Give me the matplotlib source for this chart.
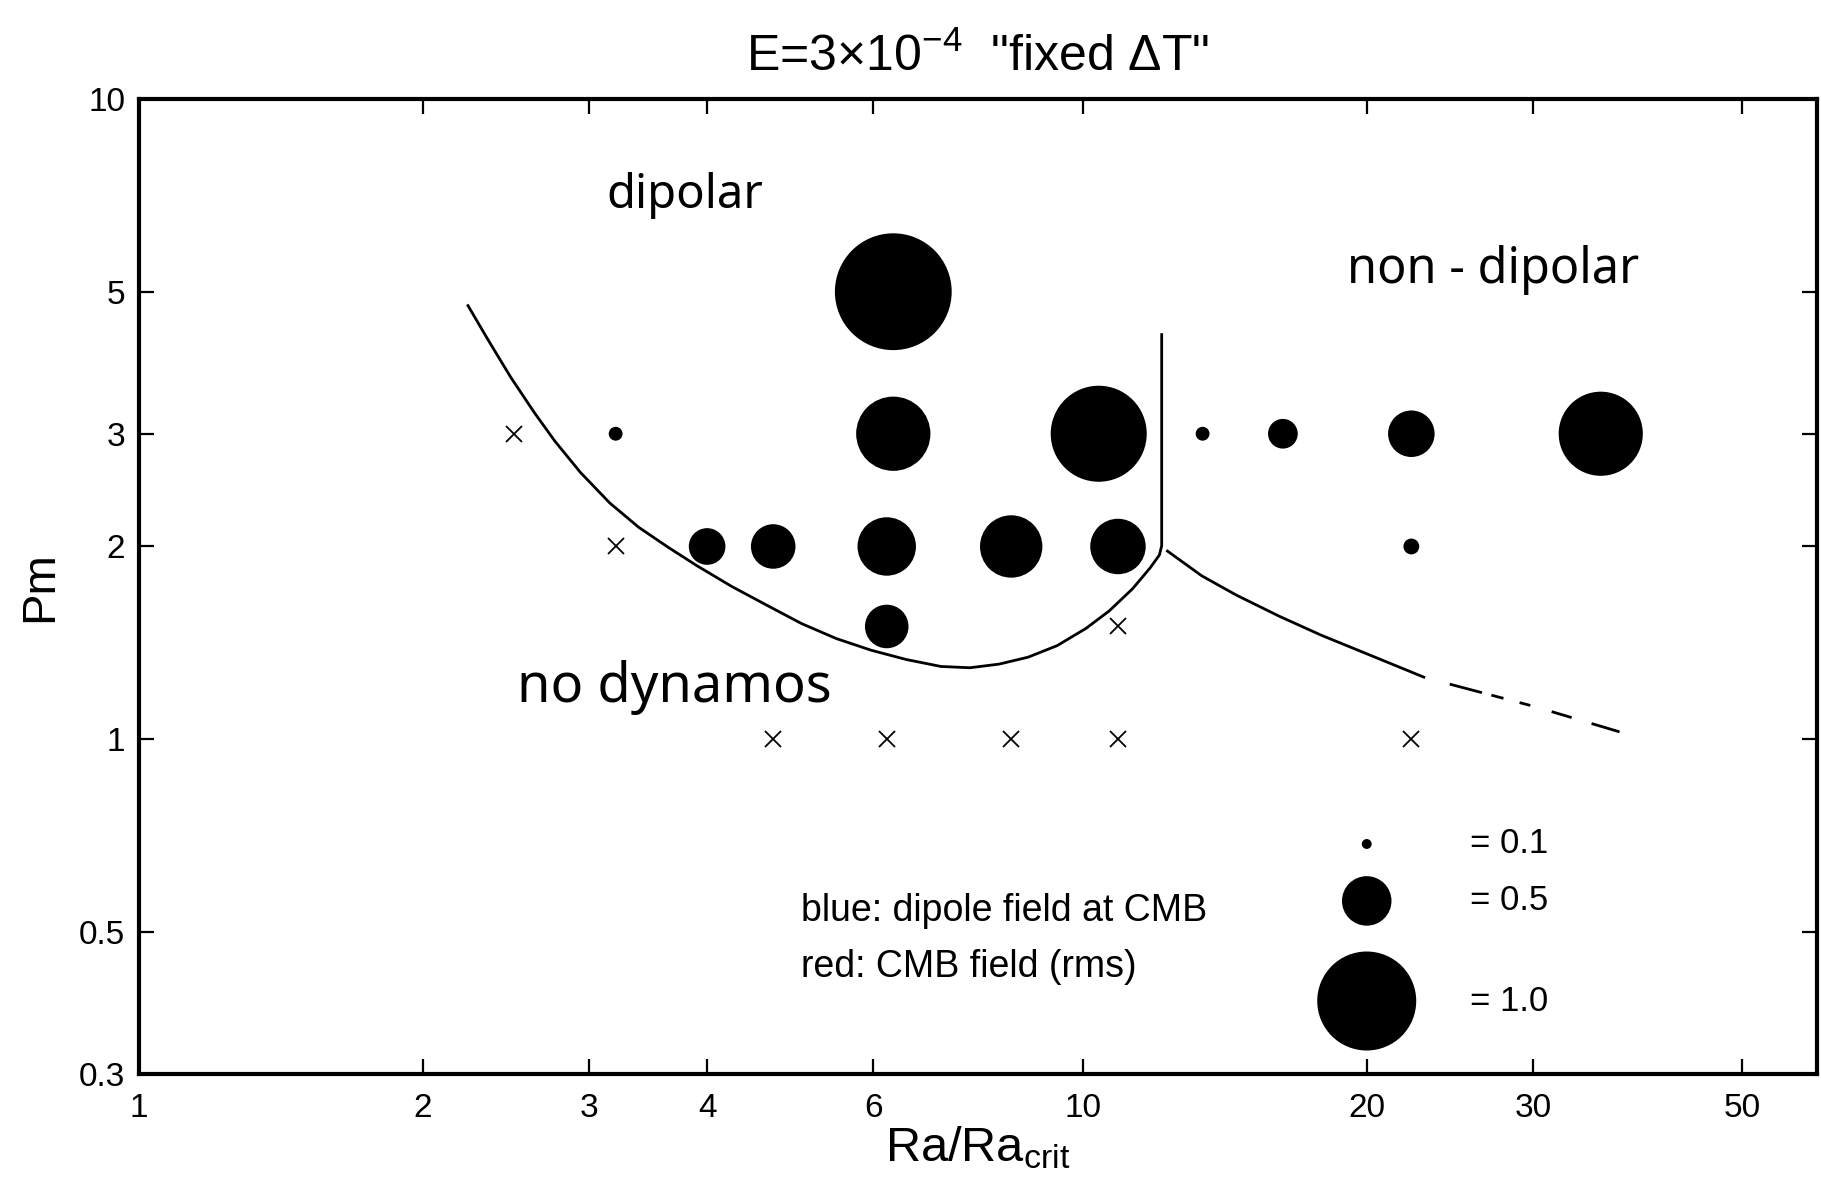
import matplotlib
matplotlib.use('Agg')
import matplotlib.pyplot as plt

plt.rcParams['font.family'] = ['Liberation Sans', 'DejaVu Sans']
plt.rcParams['mathtext.fontset'] = 'custom'
plt.rcParams['mathtext.rm'] = 'Liberation Sans'
plt.rcParams['mathtext.it'] = 'Liberation Sans'

# dynamo runs: Ra/Ra_crit, Pm and CMB field strength (drawn as disc diameter)
ra_dyn = [6.3, 3.2, 6.3, 10.4, 13.4, 16.3, 22.3, 35.4,
          4.0, 4.7, 6.2, 8.4, 10.9, 22.3, 6.2]
pm_dyn = [5, 3, 3, 3, 3, 3, 3, 3,
          2, 2, 2, 2, 2, 2, 1.5]
b_cmb = [1.18, 0.14, 0.75, 0.97, 0.14, 0.30, 0.47, 0.85,
         0.37, 0.45, 0.59, 0.63, 0.56, 0.16, 0.44]

# runs without a dynamo
ra_fail = [2.5, 3.2, 10.9, 4.7, 6.2, 8.4, 10.9, 22.3]
pm_fail = [3, 2, 1.5, 1, 1, 1, 1, 1]

# regime boundaries (hand drawn): onset curve, then the dipolar /
# non-dipolar divide going straight up
ra_left = [2.232, 2.342, 2.478, 2.623, 2.760, 2.938, 3.154, 3.385, 3.634,
           3.900, 4.248, 4.624, 5.035, 5.483, 5.970, 6.501, 7.077, 7.596,
           8.154, 8.753, 9.396, 10.085, 10.674, 11.296, 11.787, 12.058,
           12.127, 12.127]
pm_left = [4.756, 4.214, 3.673, 3.240, 2.919, 2.608, 2.339, 2.143, 1.996,
           1.867, 1.732, 1.620, 1.516, 1.436, 1.377, 1.332, 1.299, 1.293,
           1.310, 1.343, 1.400, 1.490, 1.587, 1.718, 1.851, 1.939,
           2.005, 4.285]
ra_right = [12.30, 13.37, 14.54, 16.13, 17.89, 19.87, 22.99]
pm_right = [1.967, 1.800, 1.680, 1.558, 1.454, 1.365, 1.250]
ra_ext = [24.49, 30.16, 37.96]
pm_ext = [1.219, 1.124, 1.016]

# size key
key_vals = [0.1, 0.5, 1.0]
key_pm = [0.686, 0.559, 0.390]
key_ra = 20.0

xticks = [1, 2, 3, 4, 6, 10, 20, 30, 50]
yticks = [0.3, 0.5, 1, 2, 3, 5, 10]

DPI = 100
PX_PER_UNIT = 99  # disc diameter in pixels for a field of 1.0


def disc_area(v):
    d_pt = v * PX_PER_UNIT * 72.0 / DPI
    return d_pt ** 2


fig = plt.figure(figsize=(18.21, 11.97), dpi=DPI)
ax = fig.add_axes([0.0763, 0.1028, 0.9215, 0.8145])
ax.set_xscale('log')
ax.set_yscale('log')
ax.set_xlim(1, 60)
ax.set_ylim(0.3, 10)

ax.scatter(ra_dyn, pm_dyn, s=[disc_area(v) for v in b_cmb], c='black',
           linewidths=0, zorder=3)
ax.plot(ra_fail, pm_fail, linestyle='none', marker='x', markersize=11,
        markeredgewidth=1.3, color='black', zorder=3)

ax.plot(ra_left, pm_left, color='black', lw=2, solid_joinstyle='round')
ax.plot(ra_right, pm_right, color='black', lw=2, solid_joinstyle='round')
ax.plot(ra_ext, pm_ext, color='black', lw=2,
        linestyle=(0, (12, 3.5, 4.5, 6, 4, 8, 7.5, 7.5, 10.5, 5)))

# size key
ax.scatter([key_ra] * len(key_vals), key_pm,
           s=[disc_area(v) for v in key_vals], c='black', linewidths=0)
for v, p in zip(key_vals, key_pm):
    ax.text(25.7, p, '= %.1f' % v, fontsize=25, va='center', ha='left')

ax.text(5.03, 0.539, 'blue: dipole field at CMB', fontsize=27, va='center')
ax.text(5.03, 0.441, 'red: CMB field (rms)', fontsize=27, va='center')

hand = dict(family=['Noto Sans', 'DejaVu Sans'], color='black',
            ha='center', va='center')
ax.text(3.79, 7.07, 'dipolar', fontsize=34, **hand)
ax.text(27.2, 5.41, 'non - dipolar', fontsize=35, **hand)
ax.text(3.69, 1.205, 'no dynamos', fontsize=39, **hand)

ax.set_xticks(xticks)
ax.set_xticklabels([str(t) for t in xticks])
ax.set_yticks(yticks)
ax.set_yticklabels([('%g' % t) for t in yticks])
ax.minorticks_off()
ax.tick_params(which='both', direction='in', length=11, width=1.6,
               top=True, right=True, labelsize=24)
ax.tick_params(axis='x', pad=14)
ax.tick_params(axis='y', pad=10)
for sp in ax.spines.values():
    sp.set_linewidth(3)

ax.set_title('E=3\u00d710$^{-4}$  "fixed \u0394T"', fontsize=36, pad=20)
ax.set_xlabel('Ra/Ra$_{\\mathrm{crit}}$', fontsize=35, labelpad=0)
ax.set_ylabel('Pm', fontsize=34, labelpad=12)

fig.savefig('out.png', dpi=DPI)
